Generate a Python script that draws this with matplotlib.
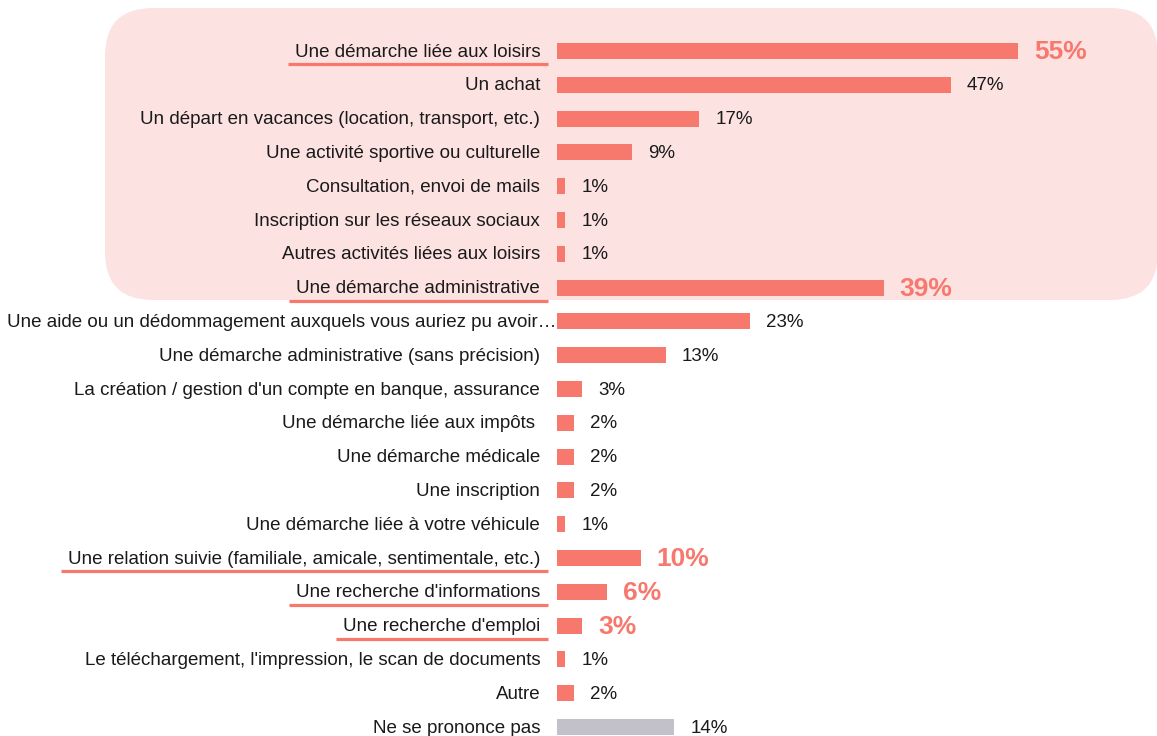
import matplotlib
matplotlib.use("Agg")
import matplotlib.pyplot as plt
from matplotlib.patches import FancyBboxPatch
from matplotlib.lines import Line2D

plt.rcParams['font.family'] = ['Liberation Sans', 'DejaVu Sans']

categories = [
    "Une démarche liée aux loisirs",
    "Un achat",
    "Un départ en vacances (location, transport, etc.)",
    "Une activité sportive ou culturelle",
    "Consultation, envoi de mails",
    "Inscription sur les réseaux sociaux",
    "Autres activités liées aux loisirs",
    "Une démarche administrative",
    "Une aide ou un dédommagement auxquels vous auriez pu avoir…",
    "Une démarche administrative (sans précision)",
    "La création / gestion d'un compte en banque, assurance",
    "Une démarche liée aux impôts ",
    "Une démarche médicale",
    "Une inscription",
    "Une démarche liée à votre véhicule",
    "Une relation suivie (familiale, amicale, sentimentale, etc.)",
    "Une recherche d'informations",
    "Une recherche d'emploi",
    "Le téléchargement, l'impression, le scan de documents",
    "Autre",
    "Ne se prononce pas",
]
values = [55, 47, 17, 9, 1, 1, 1, 39, 23, 13, 3, 2, 2, 2, 1, 10, 6, 3, 1, 2, 14]
highlighted = [0, 7, 15, 16, 17]
gray_rows = [20]

RED = "#F7786D"
GRAY = "#C2C1CA"
PINK = "#FDE2E2"
TXT = "#1a1a1a"

W, H = 1157, 736
fig = plt.figure(figsize=(W / 100, H / 100), dpi=100)

# background axes in pixel coordinates
bg = fig.add_axes([0, 0, 1, 1], zorder=0)
bg.set_xlim(0, W)
bg.set_ylim(H, 0)
bg.axis("off")
bg.add_patch(FancyBboxPatch((105, 8), 1158 - 105, 292,
                            boxstyle="round,pad=0,rounding_size=48",
                            facecolor=PINK, edgecolor="none"))

x0 = 557
px_per = 8.38
row0, step = 51, 33.8
ax = fig.add_axes([x0 / W, 0, (W - x0) / W, 1], zorder=1)
ax.patch.set_alpha(0)
ax.set_xlim(0, (W - x0) / px_per)
ax.set_ylim((H - row0) / step, -row0 / step)
ax.axis("off")

ys = list(range(len(categories)))
colors = [GRAY if i in gray_rows else RED for i in ys]
ax.barh(ys, values, height=0.47, color=colors, edgecolor="none")

texts = []
for i, (c, v) in enumerate(zip(categories, values)):
    xoff = -0.1 if i == 8 else -2.0
    t = ax.text(xoff, i + 0.03, c, ha="right", va="center", fontsize=13.5, color=TXT)
    texts.append(t)
    if i in highlighted:
        ax.text(v + 1.9, i + 0.03, f"{v}%", ha="left", va="center", fontsize=19,
                fontweight="bold", color=RED)
    else:
        ax.text(v + 1.9, i + 0.03, f"{v}%", ha="left", va="center", fontsize=13.5, color=TXT)

fig.canvas.draw()
r = fig.canvas.get_renderer()
for i in highlighted:
    bb = texts[i].get_window_extent(r)
    ypix = (bb.y0 + bb.y1) / 2 - 12
    fig.add_artist(Line2D([(bb.x0 - 7) / W, (bb.x1 + 8) / W], [ypix / H, ypix / H],
                          transform=fig.transFigure, color=RED, lw=2.3,
                          solid_capstyle="butt", zorder=2))

fig.savefig("out.png", dpi=100)
